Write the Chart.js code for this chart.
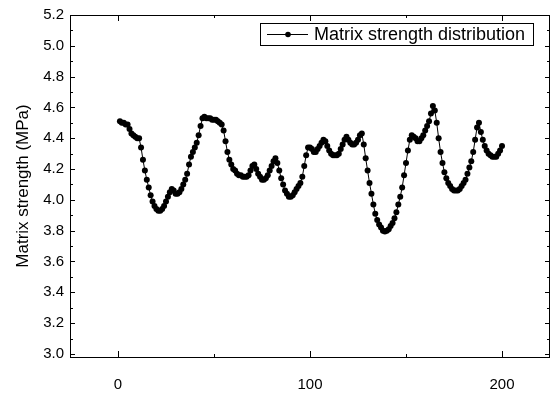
<!DOCTYPE html>
<html>
<head>
<meta charset="utf-8">
<style>
  html, body { margin: 0; padding: 0; background: #fff; }
  #wrap { width: 554px; height: 399px; position: relative; }
</style>
</head>
<body>
<div id="wrap"><canvas id="strengthChart"></canvas></div>

<script src="https://cdn.jsdelivr.net/npm/chart.js"></script>
<script>
  // Matrix strength (MPa) along the specimen, one reading per position 1..200
  const positions = Array.from({ length: 200 }, (_, i) => i + 1);
  const strength = [
    4.51, 4.50, 4.50, 4.49, 4.49, 4.46, 4.43, 4.42, 4.41, 4.40,
    4.40, 4.34, 4.26, 4.19, 4.13, 4.08, 4.03, 3.99, 3.96, 3.94,
    3.93, 3.93, 3.94, 3.96, 3.99, 4.02, 4.05, 4.07, 4.06, 4.04,
    4.04, 4.05, 4.07, 4.10, 4.13, 4.17, 4.23, 4.28, 4.31, 4.34,
    4.37, 4.42, 4.48, 4.53, 4.54, 4.53, 4.53, 4.53, 4.52, 4.52,
    4.52, 4.51, 4.50, 4.49, 4.45, 4.38, 4.31, 4.26, 4.23, 4.20,
    4.19, 4.17, 4.16, 4.16, 4.15, 4.15, 4.15, 4.16, 4.19, 4.22,
    4.23, 4.20, 4.17, 4.15, 4.13, 4.13, 4.14, 4.16, 4.19, 4.22,
    4.25, 4.27, 4.24, 4.19, 4.14, 4.10, 4.06, 4.04, 4.02, 4.02,
    4.03, 4.05, 4.07, 4.09, 4.11, 4.15, 4.22, 4.29, 4.34, 4.34,
    4.33, 4.31, 4.31, 4.33, 4.35, 4.37, 4.39, 4.38, 4.35, 4.32,
    4.30, 4.29, 4.29, 4.29, 4.30, 4.33, 4.36, 4.39, 4.41, 4.39,
    4.37, 4.36, 4.36, 4.37, 4.39, 4.42, 4.43, 4.36, 4.27, 4.19,
    4.11, 4.04, 3.97, 3.91, 3.87, 3.84, 3.82, 3.80, 3.795, 3.80,
    3.81, 3.83, 3.85, 3.88, 3.92, 3.97, 4.02, 4.08, 4.16, 4.24,
    4.32, 4.39, 4.42, 4.41, 4.40, 4.38, 4.38, 4.40, 4.42, 4.45,
    4.48, 4.51, 4.56, 4.61, 4.58, 4.50, 4.40, 4.31, 4.24, 4.18,
    4.14, 4.11, 4.09, 4.07, 4.06, 4.06, 4.06, 4.07, 4.09, 4.11,
    4.13, 4.17, 4.21, 4.25, 4.31, 4.39, 4.47, 4.50, 4.44, 4.39,
    4.35, 4.32, 4.30, 4.29, 4.28, 4.28, 4.28, 4.30, 4.32, 4.35
  ];

  const xTicks = [0, 100, 200];
  const xMinorTicks = [50, 150];
  const yTicks = [3.0, 3.2, 3.4, 3.6, 3.8, 4.0, 4.2, 4.4, 4.6, 4.8, 5.0, 5.2];
  const yMinorTicks = [3.1, 3.3, 3.5, 3.7, 3.9, 4.1, 4.3, 4.5, 4.7, 4.9, 5.1];

  const seriesName = 'Matrix strength distribution';
  const yTitle = 'Matrix strength (MPa)';
  const FONT = 'Arial, "Liberation Sans", sans-serif';

  // closed frame with inward ticks on all four sides, plus the boxed legend
  const frameAndLegend = {
    id: 'frameAndLegend',
    afterDraw(chart) {
      const { ctx, chartArea: a, scales: { x, y } } = chart;
      ctx.save();
      ctx.strokeStyle = '#000';
      ctx.lineWidth = 1;
      ctx.strokeRect(a.left + 0.5, a.top + 0.5, a.right - a.left - 1, a.bottom - a.top);

      ctx.beginPath();
      const yMark = (v, len) => {
        const py = Math.round(y.getPixelForValue(v)) + 0.5;
        ctx.moveTo(a.left, py); ctx.lineTo(a.left + len, py);
        ctx.moveTo(a.right, py); ctx.lineTo(a.right - len, py);
      };
      const xMark = (v, len) => {
        const px = Math.round(x.getPixelForValue(v)) + 0.5;
        ctx.moveTo(px, a.bottom); ctx.lineTo(px, a.bottom - len);
        ctx.moveTo(px, a.top); ctx.lineTo(px, a.top + len);
      };
      yTicks.forEach(v => yMark(v, 5));
      yMinorTicks.forEach(v => yMark(v, 3));
      xTicks.forEach(v => xMark(v, 6));
      xMinorTicks.forEach(v => xMark(v, 3));
      ctx.stroke();

      // legend
      const bx = 260, by = 23, bw = 273, bh = 22;
      ctx.fillStyle = '#fff';
      ctx.fillRect(bx, by, bw, bh);
      ctx.strokeRect(bx + 0.5, by + 0.5, bw, bh);
      const cy = by + bh / 2 + 0.5;
      ctx.beginPath();
      ctx.moveTo(bx + 7, cy); ctx.lineTo(bx + 48, cy);
      ctx.stroke();
      ctx.beginPath();
      ctx.arc(bx + 28, cy, 2.8, 0, Math.PI * 2);
      ctx.fillStyle = '#000';
      ctx.fill();
      ctx.font = '18px ' + FONT;
      ctx.textBaseline = 'middle';
      ctx.textAlign = 'left';
      ctx.fillText(seriesName, bx + 54, cy + 1);
      ctx.restore();
    }
  };

  new Chart(document.getElementById('strengthChart'), {
    type: 'line',
    data: {
      datasets: [{
        label: seriesName,
        data: positions.map((p, i) => ({ x: p, y: strength[i] })),
        borderColor: '#000',
        backgroundColor: '#000',
        borderWidth: 1,
        pointRadius: 3,
        pointBorderWidth: 0,
        tension: 0
      }]
    },
    options: {
      responsive: true,
      maintainAspectRatio: false,
      animation: false,
      layout: { padding: { top: 8, right: 4, left: 0, bottom: 0 } },
      plugins: { legend: { display: false }, tooltip: { enabled: false } },
      scales: {
        x: {
          type: 'linear',
          min: -25,
          max: 225,
          afterBuildTicks: s => { s.ticks = xTicks.map(v => ({ value: v })); },
          afterFit: s => { s.height = 42; },
          grid: { display: false, drawTicks: false },
          border: { display: false },
          ticks: { color: '#000', padding: 19, maxRotation: 0, font: { family: FONT, size: 15 } }
        },
        y: {
          min: 2.98,
          max: 5.2,
          afterBuildTicks: s => { s.ticks = yTicks.map(v => ({ value: v })); },
          afterFit: s => { s.width = 70; },
          grid: { display: false, drawTicks: false },
          border: { display: false },
          ticks: {
            color: '#000',
            padding: 6,
            font: { family: FONT, size: 15 },
            callback: v => v.toFixed(1)
          },
          title: {
            display: true,
            text: yTitle,
            color: '#000',
            font: { family: FONT, size: 17 },
            padding: { top: 13, bottom: 0 }
          }
        }
      }
    },
    plugins: [frameAndLegend]
  });
</script>
</body>
</html>
